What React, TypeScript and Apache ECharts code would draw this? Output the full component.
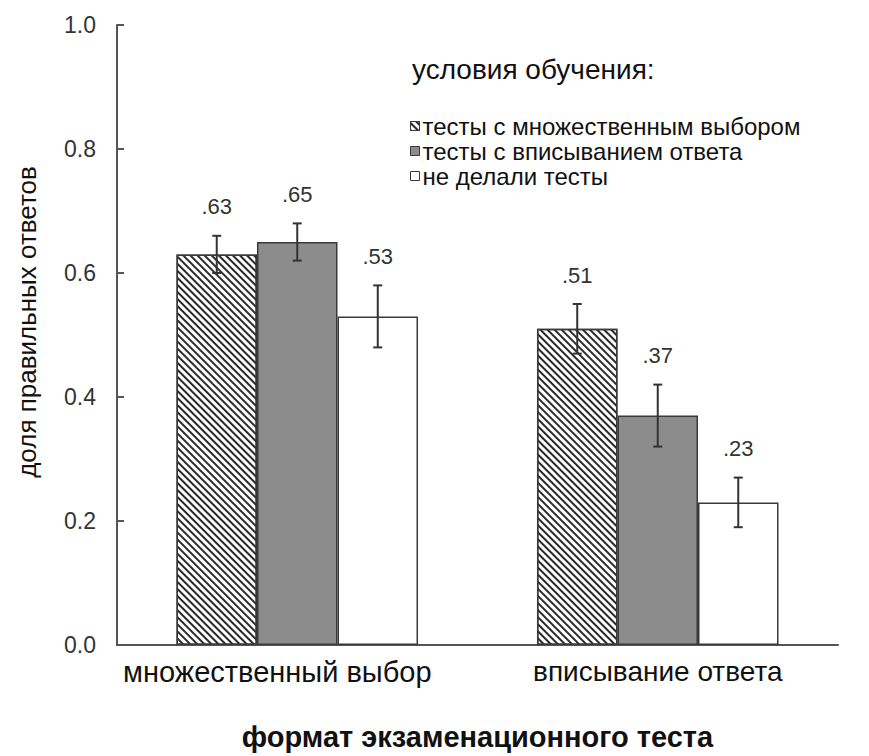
import React, { useEffect, useRef } from "react";
import * as echarts from "echarts";

const categories = ["множественный выбор", "вписывание ответа"];
const seriesNames = [
  "тесты с множественным выбором",
  "тесты с вписыванием ответа",
  "не делали тесты",
];
const multipleChoiceTests = [0.63, 0.51];
const shortAnswerTests = [0.65, 0.37];
const noTests = [0.53, 0.23];
const multipleChoiceErr = [0.03, 0.04];
const shortAnswerErr = [0.03, 0.05];
const noTestsErr = [0.05, 0.04];
const yTicks = [0, 0.2, 0.4, 0.6, 0.8, 1.0];

const FONT = "'Liberation Sans', Arial, Helvetica, sans-serif";
const GAP = 0.33;

export default function App() {
  const ref = useRef<HTMLDivElement>(null);
  useEffect(() => {
    if (!ref.current) return;
    const chart = echarts.init(ref.current, null, { renderer: "svg" });
    const values = [multipleChoiceTests, shortAnswerTests, noTests];
    const errs = [multipleChoiceErr, shortAnswerErr, noTestsErr];
    const errData: number[][] = [];
    values.forEach((arr, s) =>
      arr.forEach((v, c) => errData.push([c, s, v, errs[s][c]]))
    );
    const border = "#3a3a3a";
    const option: any = {
      animation: false,
      backgroundColor: "#ffffff",
      textStyle: { fontFamily: FONT },
      title: {
        text: "условия обучения:",
        left: 412,
        top: 55,
        padding: 0,
        textStyle: { fontFamily: FONT, fontSize: 28, fontWeight: "normal", color: "#111" },
      },
      legend: {
        orient: "vertical",
        left: 410,
        top: 114,
        padding: 0,
        itemWidth: 9,
        itemHeight: 9,
        itemGap: 1,
        icon: "rect",
        data: seriesNames,
        itemStyle: { borderWidth: 1 },
        textStyle: { fontFamily: FONT, fontSize: 24, color: "#111", lineHeight: 24, padding: [0, 0, 0, -2] },
      },
      grid: { left: 117, right: 31, top: 25, bottom: 103, containLabel: false },
      xAxis: {
        type: "category",
        data: categories,
        axisLine: { lineStyle: { color: "#555", width: 2 } },
        axisTick: { show: false },
        axisLabel: {
          margin: 12,
          formatter: (v: string, i: number) => (i === 0 ? `{a|${v}}` : `{b|${v}}`),
          rich: {
            a: { fontFamily: FONT, fontSize: 29, color: "#111", padding: [0, 40, 0, 0] },
            b: { fontFamily: FONT, fontSize: 28, color: "#111" },
          },
        },
        name: "формат экзаменационного теста",
        nameLocation: "middle",
        nameGap: 77,
        nameTextStyle: { fontFamily: FONT, fontSize: 29, fontWeight: "bold", color: "#111" },
      },
      yAxis: {
        type: "value",
        min: yTicks[0],
        max: yTicks[yTicks.length - 1],
        interval: 0.2,
        splitLine: { show: false },
        axisLine: { show: true, lineStyle: { color: "#555", width: 2 } },
        axisTick: { show: true, inside: true, length: 7, lineStyle: { color: "#555", width: 2 } },
        axisLabel: {
          margin: 21,
          fontFamily: FONT,
          fontSize: 23,
          color: "#333",
          formatter: (v: number) => v.toFixed(1),
        },
      },
      graphic: [
        {
          type: "text",
          x: 27,
          y: 322,
          rotation: Math.PI / 2,
          style: {
            text: "доля правильных ответов",
            font: `26px ${FONT}`,
            fill: "#111",
            align: "center",
            verticalAlign: "middle",
          },
        },
      ],
      series: [
        {
          name: seriesNames[0],
          type: "bar",
          data: multipleChoiceTests,
          barGap: "0%",
          barCategoryGap: "33%",
          itemStyle: {
            color: "#ffffff",
            borderColor: border,
            borderWidth: 1.5,
            decal: {
              symbol: "rect",
              symbolSize: 1,
              dashArrayX: [1, 0],
              dashArrayY: [1.6, 2.6],
              rotation: Math.PI / 4,
              color: "#2a2a2a",
            },
          },
        },
        {
          name: seriesNames[1],
          type: "bar",
          data: shortAnswerTests,
          barGap: "0%",
          barCategoryGap: "33%",
          itemStyle: { color: "#8c8c8c", borderColor: border, borderWidth: 1.5 },
        },
        {
          name: seriesNames[2],
          type: "bar",
          data: noTests,
          barGap: "0%",
          barCategoryGap: "33%",
          itemStyle: { color: "#ffffff", borderColor: border, borderWidth: 1.5 },
        },
        {
          type: "custom",
          z: 10,
          data: errData,
          encode: { x: 0, y: 2 },
          renderItem: (params: any, api: any) => {
            const c = api.value(0);
            const s = api.value(1);
            const mean = api.value(2);
            const e = api.value(3);
            const band = api.size([1, 0])[0];
            const bw = (band * (1 - GAP)) / 3;
            const center = api.coord([c, mean]);
            const x = center[0] + (s - 1) * bw;
            const top = api.coord([c, mean + e])[1];
            const bot = api.coord([c, mean - e])[1];
            const cap = 4.5;
            const ls = { stroke: "#333", lineWidth: 2 };
            return {
              type: "group",
              children: [
                { type: "line", shape: { x1: x, y1: top, x2: x, y2: bot }, style: ls },
                { type: "line", shape: { x1: x - cap, y1: top, x2: x + cap, y2: top }, style: ls },
                { type: "line", shape: { x1: x - cap, y1: bot, x2: x + cap, y2: bot }, style: ls },
                {
                  type: "text",
                  x: x,
                  y: top - 29,
                  style: {
                    text: "." + String(Math.round(mean * 100)).padStart(2, "0"),
                    font: `22px ${FONT}`,
                    fill: "#333",
                    align: "center",
                    verticalAlign: "middle",
                  },
                },
              ],
            };
          },
        },
      ],
    };
    chart.setOption(option);
    return () => chart.dispose();
  }, []);
  return (
    <div
      ref={ref}
      style={{ position: "absolute", left: 0, top: 0, width: 869, height: 756 }}
    />
  );
}
